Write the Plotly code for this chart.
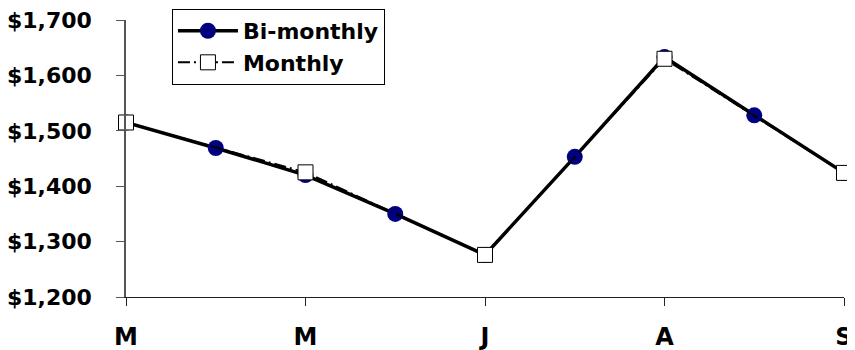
import plotly.graph_objects as go

# Data
half_month_pos = [0, 1, 2, 3, 4, 5, 6, 7, 8]
bimonthly_vals = [1515, 1469, 1420, 1350, 1276, 1453, 1633, 1528, 1424]
month_pos = [0, 2, 4, 6, 8]
monthly_vals = [1515, 1425, 1276, 1630, 1424]
month_labels = ["M", "M", "J", "A", "S"]
y_ticks = [1200, 1300, 1400, 1500, 1600, 1700]
y_tick_labels = ["$" + format(v, ",d") for v in y_ticks]

FONT = "DejaVu Sans"

fig = go.Figure()
fig.add_trace(go.Scatter(
    x=half_month_pos, y=bimonthly_vals, name="Bi-monthly",
    mode="lines+markers",
    line=dict(color="black", width=3.5),
    marker=dict(symbol="circle", size=16, color="#000080"),
    cliponaxis=False,
))
fig.add_trace(go.Scatter(
    x=month_pos, y=monthly_vals, name="Monthly",
    mode="lines+markers",
    line=dict(color="black", width=2, dash="12px,4px,2px,4px"),
    marker=dict(symbol="square", size=15, color="white",
                line=dict(color="black", width=1)),
    cliponaxis=False,
))

# page body has an 8px default margin, so the figure is sized to fit the window
fig.update_layout(
    width=847, height=342,
    margin=dict(l=118, r=11, t=12, b=53, autoexpand=False),
    plot_bgcolor="white", paper_bgcolor="white",
    font=dict(family=FONT, size=22, color="black", weight="bold"),
    showlegend=True,
    legend=dict(
        x=0.064, y=1.04, xanchor="left", yanchor="top",
        bordercolor="black", borderwidth=1, bgcolor="white",
        font=dict(family=FONT, size=22, color="black", weight="bold"),
        tracegroupgap=0, itemwidth=60,
    ),
)
fig.update_xaxes(
    range=[0, 8], tickvals=month_pos, ticktext=month_labels,
    showgrid=False, zeroline=False, automargin=False,
    showline=True, linecolor="#222", linewidth=1,
    ticks="outside", ticklen=8, tickcolor="#222",
    ticklabelstandoff=10, ticklabeloverflow="allow",
    tickfont=dict(family=FONT, size=24, color="black", weight="bold"),
)
fig.update_yaxes(
    range=[1200, 1700], tickvals=y_ticks, ticktext=y_tick_labels,
    showgrid=False, zeroline=False, automargin=False,
    showline=True, linecolor="#555", linewidth=1.5,
    ticks="outside", ticklen=8, tickcolor="#555",
    ticklabelstandoff=20, ticklabeloverflow="allow",
    tickfont=dict(family=FONT, size=22, color="black", weight="bold"),
)

fig.write_html("out.html")
